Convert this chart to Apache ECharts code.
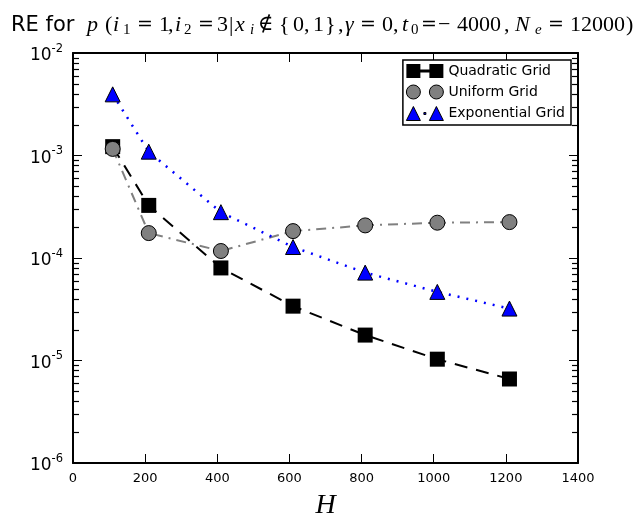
<!DOCTYPE html>
<html>
<head>
<meta charset="utf-8">
<script src="https://cdn.jsdelivr.net/npm/echarts@6/dist/echarts.min.js"></script>
<style>html,body{margin:0;padding:0;background:#fff;}#c{width:634px;height:517px;}</style>
</head>
<body>
<div id="c"></div>
<script>
// ---- data ----
const H = [110, 210, 410, 610, 810, 1010, 1210];
const quadratic = [1.22e-3, 3.26e-4, 8.0e-5, 3.39e-5, 1.77e-5, 1.03e-5, 6.6e-6];
const uniform = [1.16e-3, 1.75e-4, 1.17e-4, 1.83e-4, 2.08e-4, 2.21e-4, 2.24e-4];
const exponential = [3.95e-3, 1.09e-3, 2.8e-4, 1.28e-4, 7.2e-5, 4.67e-5, 3.21e-5];
const seriesNames = ['Quadratic Grid', 'Uniform Grid', 'Exponential Grid'];
const xTicks = [0, 200, 400, 600, 800, 1000, 1200, 1400];
const minorTickValues = [];
[1e-6, 1e-5, 1e-4, 1e-3].forEach(function (d) {
  for (let k = 2; k <= 9; k++) minorTickValues.push(+(k * d).toPrecision(3));
});

const chart = echarts.init(document.getElementById('c'), null, {renderer: 'canvas'});

function pairs(ys) { return H.map(function (x, i) { return [x, ys[i]]; }); }

// ---- title: text pieces laid out glyph group by glyph group ----
const serif = '"Liberation Serif"';
const fonts = {
  s: {font: '21px "DejaVu Sans"', y: 26},
  i: {font: 'italic 22px ' + serif, y: 25},
  r: {font: '22px ' + serif, y: 25},
  eq: {font: '19px "DejaVu Serif"', y: 25, center: 8},
  d: {font: '21px "DejaVu Serif"', y: 25},
  si: {font: 'italic 15px ' + serif, y: 30},
  sr: {font: '15px ' + serif, y: 30}
};
// [style, text, left x of glyph]
const titleParts = [
  ['s', 'RE for', 11], ['i', 'p', 87], ['r', '(', 105], ['i', 'i', 113], ['sr', '1', 123],
  ['eq', '=', 137], ['r', '1', 159], ['r', ',', 168], ['i', 'i', 175], ['sr', '2', 184],
  ['eq', '=', 198], ['r', '3', 217], ['r', '|', 229], ['i', 'x', 235], ['si', 'i', 250],
  ['d', '\u2209', 258], ['r', '{', 279], ['r', '0', 293], ['r', ',', 304], ['r', '1', 313],
  ['r', '}', 325], ['r', ',', 338], ['i', '\u03b3', 345], ['eq', '=', 360], ['r', '0', 382],
  ['r', ',', 393], ['i', 't', 402], ['sr', '0', 411], ['eq', '=', 421], ['r', '\u2212', 438],
  ['r', '4000', 457], ['r', ',', 504], ['i', 'N', 515], ['si', 'e', 535], ['eq', '=', 548],
  ['r', '12000', 570], ['r', ')', 626]
];
const titleGraphics = titleParts.map(function (p) {
  const f = fonts[p[0]];
  const c = f.center !== undefined;
  return {
    type: 'text', x: p[2] + (c ? f.center : 0), y: f.y, silent: true,
    style: {text: p[1], font: f.font, fill: '#000', textAlign: c ? 'center' : 'left',
      textVerticalAlign: 'middle', verticalAlign: 'middle'}
  };
});

const legendIcons = {
  'Quadratic Grid': 'path://M0,0H14V14H0Z M14,5.5H23V8.5H14Z M23,0H37V14H23Z',
  'Uniform Grid': 'path://M0,7A7,7 0 1,0 14,7A7,7 0 1,0 0,7Z M23,7A7,7 0 1,0 37,7A7,7 0 1,0 23,7Z',
  'Exponential Grid': 'path://M0,14L7,0L14,14Z M23,14L30,0L37,14Z M17.5,6H19.5V8H17.5Z'
};

// minor tick items: one per (side, value); side 0 = left edge, 1 = right edge
const minorTickItems = [];
minorTickValues.forEach(function (v) {
  minorTickItems.push([xTicks[0], v, 1]);
  minorTickItems.push([xTicks[xTicks.length - 1], v, -1]);
});

const option = {
  animation: false,
  backgroundColor: '#fff',
  graphic: titleGraphics,
  legend: {
    orient: 'vertical',
    right: 63,
    top: 60,
    padding: [4, 6, 4, 3],
    itemGap: 6.5,
    itemWidth: 37,
    itemHeight: 14,
    borderColor: '#000',
    borderWidth: 1.5,
    borderRadius: 0,
    backgroundColor: '#fff',
    textStyle: {fontFamily: 'DejaVu Sans', fontSize: 14, color: '#000'},
    data: [
      {name: seriesNames[0], icon: legendIcons[seriesNames[0]], itemStyle: {color: '#000', borderColor: '#000', borderWidth: 0}},
      {name: seriesNames[1], icon: legendIcons[seriesNames[1]], itemStyle: {color: '#808080', borderColor: '#000', borderWidth: 1}},
      {name: seriesNames[2], icon: legendIcons[seriesNames[2]], itemStyle: {color: '#0000ff', borderColor: '#000', borderWidth: 1}}
    ]
  },
  grid: {left: 73, right: 56, top: 53, bottom: 54, containLabel: false, outerBoundsMode: 'none'},
  xAxis: [{
    type: 'value', min: xTicks[0], max: xTicks[xTicks.length - 1], interval: 200,
    position: 'bottom',
    name: 'H', nameLocation: 'middle', nameGap: 29,
    nameTextStyle: {fontFamily: 'Liberation Serif', fontStyle: 'italic', fontSize: 28, color: '#000'},
    axisLine: {show: true, onZero: false, lineStyle: {color: '#000', width: 2}},
    axisTick: {show: true, inside: true, length: 9, lineStyle: {color: '#000', width: 1}},
    axisLabel: {fontFamily: 'DejaVu Sans', fontSize: 13, color: '#000', margin: 9,
      formatter: function (v) { return String(v); }},
    splitLine: {show: false}
  }, {
    type: 'value', min: xTicks[0], max: xTicks[xTicks.length - 1], interval: 200,
    position: 'top',
    axisLine: {show: true, onZero: false, lineStyle: {color: '#000', width: 2}},
    axisTick: {show: true, inside: true, length: 9, lineStyle: {color: '#000', width: 1}},
    axisLabel: {show: false},
    splitLine: {show: false}
  }],
  yAxis: [{
    type: 'log', logBase: 10, min: 1e-6, max: 1e-2, interval: 1,
    position: 'left',
    axisLine: {show: true, onZero: false, lineStyle: {color: '#000', width: 2}},
    axisTick: {show: true, inside: true, length: 9, lineStyle: {color: '#000', width: 1}},
    axisLabel: {
      margin: 10,
      formatter: function (v) {
        const e = Math.round(Math.log10(v));
        return '{b|10}{p|' + e + '}';
      },
      rich: {
        b: {fontFamily: 'DejaVu Sans', fontSize: 17, color: '#000', padding: [6, 0, 0, 0]},
        p: {fontFamily: 'DejaVu Sans', fontSize: 11.5, color: '#000', padding: [0, 0, 8, 0]}
      }
    },
    splitLine: {show: false}
  }, {
    type: 'log', logBase: 10, min: 1e-6, max: 1e-2, interval: 1,
    position: 'right',
    axisLine: {show: true, onZero: false, lineStyle: {color: '#000', width: 2}},
    axisTick: {show: true, inside: true, length: 9, lineStyle: {color: '#000', width: 1}},
    axisLabel: {show: false},
    splitLine: {show: false}
  }],
  series: [
    {
      name: 'minor', type: 'custom', xAxisIndex: 0, yAxisIndex: 0, silent: true, z: 20,
      clip: false,
      data: minorTickItems,
      renderItem: function (params, api) {
        const p = api.coord([api.value(0), api.value(1)]);
        const dir = api.value(2);
        const y = Math.round(p[1]) + 0.5;
        return {
          type: 'polyline',
          shape: {points: [[p[0], y], [p[0] + dir * 6, y]]},
          style: {stroke: '#000', lineWidth: 1.2, fill: null}
        };
      }
    },
    {
      name: seriesNames[0], type: 'line', data: pairs(quadratic), z: 3,
      symbol: 'rect', symbolSize: 15,
      itemStyle: {color: '#000', borderWidth: 0},
      lineStyle: {color: '#000', width: 2, type: [13, 9]}
    },
    {
      name: seriesNames[1], type: 'line', data: pairs(uniform), z: 4,
      symbol: 'circle', symbolSize: 15,
      itemStyle: {color: '#808080', borderColor: '#000', borderWidth: 1},
      lineStyle: {color: '#808080', width: 2, type: [10, 6, 2, 6]}
    },
    {
      name: seriesNames[2], type: 'line', data: pairs(exponential), z: 5,
      symbol: 'triangle', symbolSize: 15,
      itemStyle: {color: '#0000ff', borderColor: '#000', borderWidth: 1},
      lineStyle: {color: '#0000ff', width: 2.5, type: [2, 7]}
    }
  ]
};
chart.setOption(option);
</script>
</body>
</html>
